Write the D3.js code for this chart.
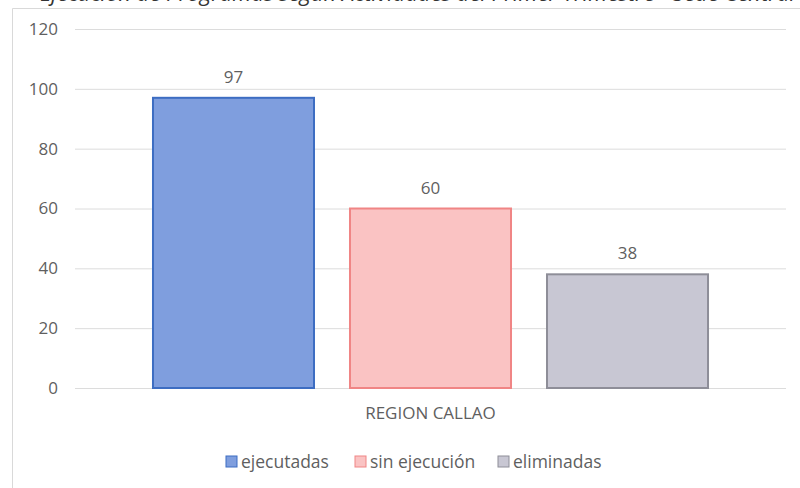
<!DOCTYPE html>
<html lang="es">
<head>
<meta charset="utf-8">
<title>REGION CALLAO</title>
<script src="https://d3js.org/d3.v7.min.js"></script>
<style>
  body { margin: 0; background: #fff; }
  text { font-family: "Open Sans", sans-serif; fill: #5f5f5f; }
</style>
</head>
<body>
<div id="chart"></div>
<script>
var categories = ["REGION CALLAO"];
var series = ["ejecutadas", "sin ejecución", "eliminadas"];
var values = [97, 60, 38];
var yTicks = [0, 20, 40, 60, 80, 100, 120];

var fills = ["#7f9ede", "#fac3c3", "#c8c7d3"];
var strokes = ["#3d6dc2", "#f08585", "#8e8e98"];

var w = 800, h = 488;
var mLeft = 75, mRight = 786, mTop = 29, mBottom = 388;

var svg = d3.select("#chart").append("svg")
  .attr("width", w)
  .attr("height", h);

// title, cut off at the top edge as in the scan
svg.append("text")
  .attr("x", 40)
  .attr("y", 1)
  .attr("font-size", "22px")
  .attr("font-style", "italic")
  .style("fill", "#333")
  .text("Ejecución de Programas según Actividades del Primer Trimestre - Sede Central");

// chart frame
svg.append("path")
  .attr("d", "M12.5," + h + "V8.5H" + w)
  .attr("fill", "none")
  .attr("stroke", "#d9d9d9");

var y = d3.scaleLinear().domain([0, 120]).range([mBottom, mTop]);

var x0 = d3.scaleBand().domain(categories).range([mLeft, mRight])
  .paddingInner(0).paddingOuter(0.1405);
var x1 = d3.scaleBand().domain(series).range([0, x0.bandwidth()])
  .paddingInner(0.1827).paddingOuter(0);

// gridlines + labels
var yAxis = d3.axisLeft(y).tickValues(yTicks).tickSize(-(mRight - mLeft)).tickPadding(17);
var gy = svg.append("g").attr("transform", "translate(" + mLeft + ",0)").call(yAxis);
gy.select(".domain").remove();
gy.selectAll("line").attr("stroke", "#dcdcdc");
gy.selectAll("text").attr("font-size", "17px").style("font-family", "'Open Sans', sans-serif").style("fill", "#5f5f5f");

var data = series.map(function(s, i) { return { s: s, v: values[i], i: i }; });

var g = svg.append("g").attr("transform", "translate(" + x0(categories[0]) + ",0)");

g.selectAll("rect")
  .data(data)
  .enter()
  .append("rect")
  .attr("x", function(d) { return x1(d.s); })
  .attr("y", function(d) { return y(d.v); })
  .attr("width", x1.bandwidth())
  .attr("height", function(d) { return y(0) - y(d.v); })
  .attr("fill", function(d) { return fills[d.i]; })
  .attr("stroke", function(d) { return strokes[d.i]; })
  .attr("stroke-width", 2);

g.selectAll("text.labels")
  .data(data)
  .enter()
  .append("text")
  .attr("class", "labels")
  .attr("x", function(d) { return x1(d.s) + x1.bandwidth() / 2; })
  .attr("y", function(d) { return y(d.v) - 15; })
  .attr("text-anchor", "middle")
  .attr("font-size", "17px")
  .text(function(d) { return d.v; });

// category label
svg.append("text")
  .attr("x", x0(categories[0]) + x0.bandwidth() / 2)
  .attr("y", 419)
  .attr("text-anchor", "middle")
  .attr("font-size", "17px")
  .text(categories[0]);

// legend
var legendX = [226, 355, 498];
var lg = svg.selectAll("g.legend")
  .data(data)
  .enter()
  .append("g")
  .attr("class", "legend")
  .attr("transform", function(d) { return "translate(" + legendX[d.i] + ",456)"; });

lg.append("rect")
  .attr("width", 11)
  .attr("height", 11)
  .attr("fill", function(d) { return fills[d.i]; })
  .attr("stroke", function(d) { return strokes[d.i]; })
  .attr("stroke-width", 1);

lg.append("text")
  .attr("x", 15)
  .attr("y", 12)
  .attr("font-size", "17.5px")
  .text(function(d) { return d.s; });
</script>
</body>
</html>
